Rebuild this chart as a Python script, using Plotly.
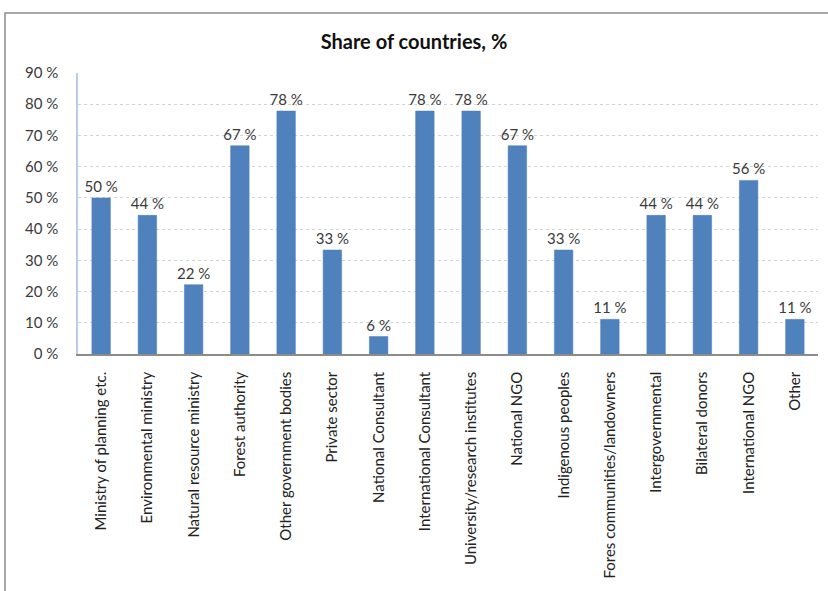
import plotly.graph_objects as go

# Stakeholder groups and the share of countries involving each one
categories = [
    "Ministry of planning etc.",
    "Environmental ministry",
    "Natural resource ministry",
    "Forest authority",
    "Other government bodies",
    "Private sector",
    "National Consultant",
    "International Consultant",
    "University/research institutes",
    "National NGO",
    "Indigenous peoples",
    "Fores communities/landowners",
    "Intergovernmental",
    "Bilateral donors",
    "International NGO",
    "Other",
]
share_pct = [50.0, 44.4, 22.2, 66.7, 77.8, 33.3, 5.6, 77.8, 77.8, 66.7, 33.3, 11.1, 44.4, 44.4, 55.6, 11.1]
y_ticks = [0, 10, 20, 30, 40, 50, 60, 70, 80, 90]
y_tick_labels = [f"{v} %" for v in y_ticks]

FONT = "Lato, 'Open Sans', sans-serif"
TEXT_COLOR = "#3a3a3a"

fig = go.Figure(
    go.Bar(
        x=categories,
        y=share_pct,
        marker=dict(color="#4f81bd", line=dict(color="#4a7ab5", width=0.5)),
        width=0.4,
        texttemplate="%{y:.0f} %",
        textposition="outside",
        constraintext="none",
        cliponaxis=False,
        textfont=dict(family=FONT, size=15, color=TEXT_COLOR),
        hoverinfo="skip",
    )
)

fig.update_layout(
    width=828,
    height=591,
    margin=dict(l=78, r=10, t=73, b=237),
    paper_bgcolor="white",
    plot_bgcolor="white",
    showlegend=False,
    title=dict(
        text="<b>Share of countries, %</b>",
        x=0.5,
        xref="container",
        xanchor="center",
        y=1 - 42 / 591,
        yanchor="middle",
        font=dict(family=FONT, size=20, color="#111111"),
    ),
    font=dict(family=FONT, size=14, color=TEXT_COLOR),
    shapes=[
        # outer chart frame
        dict(
            type="rect",
            xref="paper",
            yref="paper",
            x0=(5 - 78) / 740,
            x1=1.2,
            y0=-1.0,
            y1=(354 - 13) / 281,
            line=dict(color="#8c8c8c", width=1.5),
            fillcolor="rgba(0,0,0,0)",
            layer="below",
        )
    ],
)

fig.update_yaxes(
    range=[0, 90],
    tickvals=y_ticks,
    ticktext=y_tick_labels,
    showgrid=True,
    gridcolor="#d4d4d4",
    griddash="dot",
    gridwidth=1,
    showline=True,
    linecolor="#b9cde5",
    linewidth=1.5,
    ticks="",
    ticklabelstandoff=15,
    zeroline=False,
    tickfont=dict(family=FONT, size=15, color=TEXT_COLOR),
)

fig.update_xaxes(
    showline=True,
    linecolor="#8c8c8c",
    linewidth=1.5,
    tickangle=-90,
    ticks="",
    ticklabelstandoff=10,
    showgrid=False,
    tickfont=dict(family=FONT, size=15, color="#222222"),
)

fig.write_html("out.html")
